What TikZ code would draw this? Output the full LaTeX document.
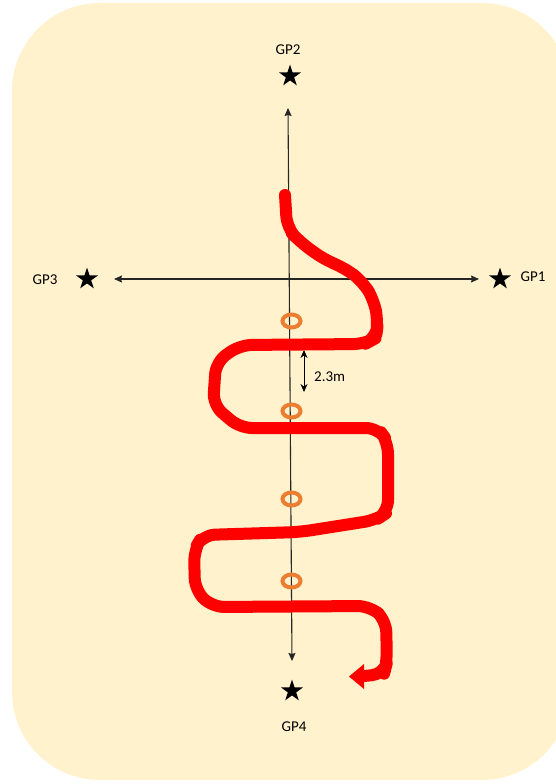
\documentclass[tikz,border=0pt]{standalone}
\usepackage{fontspec}
\setmainfont{Carlito}
\usepackage{tikz}
\usetikzlibrary{shapes.geometric, arrows.meta, positioning}
\definecolor{cSand}{RGB}{255,242,204}
\definecolor{cRoute}{RGB}{255,0,0}
\definecolor{cRing}{RGB}{237,125,49}
\tikzset{
	gpstar/.style ={star, star points=5, star point ratio=2.6, fill=black, draw=none, minimum size=23pt, inner sep=0pt},
	gplabel/.style={inner sep=0pt, font=\fontsize{15}{18}\selectfont},
	axis/.style   ={{Stealth[length=8pt, width=7pt, inset=1pt]}-{Stealth[length=8pt, width=7pt, inset=1pt]}, line width=1.1pt, black!85},
	route/.style  ={cRoute, line width=12pt, line cap=round, line join=round, rounded corners=12pt},
	ring/.style   ={ellipse, draw=cRing, line width=4pt, minimum width=18pt, minimum height=13pt, inner sep=0pt},
	dim/.style    ={{Stealth[length=8pt, width=7pt]}-{Stealth[length=8pt, width=7pt]}, line width=1pt},
}
\begin{document}
\begin{tikzpicture}[x=1pt, y=-1pt]
	\useasboundingbox (0,0) rectangle (555,784);
	% field
	\fill[cSand, rounded corners=88pt] (12,3) rectangle (570,780);
	% ground points
	\node[gpstar] (gp2) at (290,76) {};
	\node[gpstar] (gp3) at (87,279) {};
	\node[gpstar] (gp1) at (500,279) {};
	\node[gpstar] (gp4) at (292,691) {};
	\node[gplabel] at (288,50) {GP2};
	\node[gplabel] at (45,280) {GP3};
	\node[gplabel] at (533,277) {GP1};
	\node[gplabel] at (294,727) {GP4};
	% cross axes
	\coordinate (nTip) at (288,108);
	\coordinate (sTip) at (292,661);
	\coordinate (wTip) at (114,279);
	\coordinate (eTip) at (479,279);
	\draw[axis] (nTip) -- (sTip);
	\draw[axis] (wTip) -- (eTip);
	% flight line
	\draw[route] (285,195) -- (287,228) -- (300,242) -- (325,260) -- (345,268) -- (363,282) -- (374,300) -- (378,322) -- (376,338) -- (365,344) -- (240,345)
		-- (216,362) -- (213,405) -- (240,428) -- (378,428) -- (388,442) -- (388,512) -- (376,520) -- (300,532) -- (203,535)
		-- (194,550) -- (195,590) -- (212,607) -- (370,606) -- (386,620) -- (387,662) -- (384,674) -- (364,676);
	\fill[cRoute] (349,676.5) -- (364,664) -- (364,689) -- cycle;
	% checkpoints on the axis
	\foreach \y [count=\i] in {321,411,499,581}
		\node[ring] (cp\i) at (291.5,\y) {};
	% spacing
	\coordinate (dTop) at (304,350);
	\coordinate (dBot) at (304,392);
	\draw[dim] (dTop) -- (dBot);
	\node[gplabel, anchor=west] at (314,377) {2.3m};
\end{tikzpicture}
\end{document}
